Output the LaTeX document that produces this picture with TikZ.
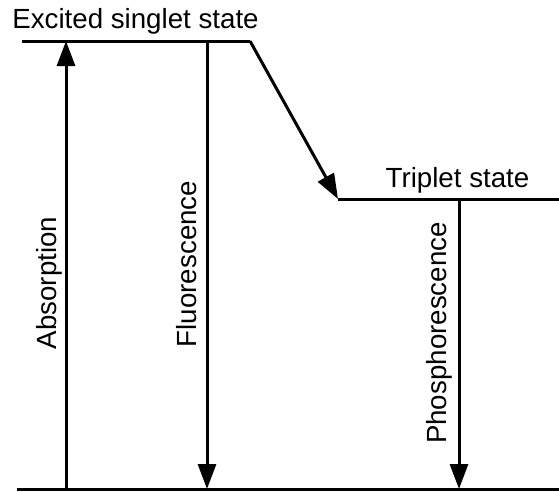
\documentclass[tikz,border=0pt]{standalone}
\usepackage{fontspec}
\setmainfont{Liberation Sans}
\usetikzlibrary{arrows.meta}
\begin{document}
\begin{tikzpicture}[x=1pt,y=-1pt,
  level/.style={line width=3pt},
  trans/.style={line width=3pt,-{Triangle[length=25pt,width=18pt]}},
  lbl/.style={inner sep=0pt,anchor=base,font=\fontsize{27.7}{32}\selectfont}]
\useasboundingbox (0,0) rectangle (559,491);
% level end points
\coordinate (g1) at (17,489);
\coordinate (g2) at (559,489);
\coordinate (s1) at (22,41);
\coordinate (s2) at (250,41);
\coordinate (t1) at (338,199);
\coordinate (t2) at (559,199);
% transition end points
\coordinate (ab0) at (66,489);
\coordinate (ab1) at (66,41);
\coordinate (fl0) at (207,41);
\coordinate (fl1) at (207,489);
\coordinate (ph0) at (459,199);
\coordinate (ph1) at (459,489);
% levels
\draw[level] (g1) -- (g2);
\draw[level] (s1) -- (s2);
\draw[level] (t1) -- (t2);
% transitions
\draw[trans] (ab0) -- (ab1);
\draw[trans] (fl0) -- (fl1);
\draw[trans] (ph0) -- (ph1);
\draw[trans] (s2) -- (t1);
% labels
\node[lbl] (ls) at (135.5,28) {Excited singlet state};
\node[lbl] (lt) at (457.5,187) {Triplet state};
\node[lbl,rotate=90] (la) at (56,283) {Absorption};
\node[lbl,rotate=90] (lf) at (196,264) {Fluorescence};
\node[lbl,rotate=90] (lp) at (446,333) {Phosphorescence};
\end{tikzpicture}
\end{document}
